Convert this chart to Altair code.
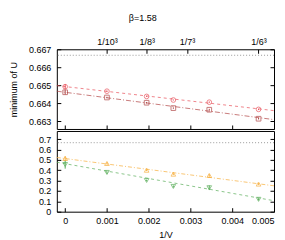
import altair as alt
import pandas as pd

# ---------------- data ----------------
inv_v = [0.0, 0.001, 0.00195, 0.00259, 0.00345, 0.00463]

top_circ = [0.66492, 0.66467, 0.66438, 0.66418, 0.66406, 0.66366]
top_circ_err = [0.00015, 0.00004, 0.00003, 0.00003, 0.00004, 0.00004]
top_sq = [0.66461, 0.66432, 0.66403, 0.66373, 0.66364, 0.66314]
top_sq_err = [0.00012, 0.00004, 0.00004, 0.00004, 0.00005, 0.00004]

bot_up = [0.514, 0.466, 0.401, 0.363, 0.350, 0.267]
bot_up_err = [0.022, 0.010, 0.008, 0.008, 0.012, 0.008]
bot_down = [0.456, 0.379, 0.302, 0.244, 0.231, 0.119]
bot_down_err = [0.040, 0.012, 0.008, 0.010, 0.022, 0.010]

# linear fits (value at left edge, value at right edge)
fit_x = [-0.0002, 0.005]
fit_circ = [0.66498, 0.66359]
fit_sq = [0.66467, 0.66309]
fit_up = [0.524, 0.250]
fit_down = [0.478, 0.106]

ref_level = [2.0 / 3.0]

series_names = ["circ", "sq", "up", "down"]
series_colors = ["#e8505a", "#b04444", "#f7ae3a", "#5aae5a"]
series_shapes = ["circle", "square", "triangle-up", "triangle-down"]
series_dash = [[3, 3], [5, 2, 1, 2], [4, 2, 1, 2], [3, 3]]

x_ticks = [0, 0.001, 0.002, 0.003, 0.004, 0.005]
top_ticks = [1 / 1000, 1 / 512, 1 / 343, 1 / 216]
top_labels = ["1/10³", "1/8³", "1/7³", "1/6³"]
y_top_ticks = [0.663, 0.664, 0.665, 0.666, 0.667]
y_bot_ticks = [0, 0.1, 0.2, 0.3, 0.4, 0.5, 0.6, 0.7]

x_domain = [-0.0002, 0.005]
y_top_domain = [0.66257, 0.667]
y_bot_domain = [0, 0.78]

FONT = "Liberation Sans"


def pts(name, ys, errs):
    return pd.DataFrame({
        "x": inv_v, "y": ys,
        "lo": [a - b for a, b in zip(ys, errs)],
        "hi": [a + b for a, b in zip(ys, errs)],
        "s": name,
    })


def fit(name, ys):
    return pd.DataFrame({"x": fit_x, "y": ys, "s": name})


top_pts = pd.concat([pts("circ", top_circ, top_circ_err), pts("sq", top_sq, top_sq_err)])
bot_pts = pd.concat([pts("up", bot_up, bot_up_err), pts("down", bot_down, bot_down_err)])
top_fit = pd.concat([fit("circ", fit_circ), fit("sq", fit_sq)])
bot_fit = pd.concat([fit("up", fit_up), fit("down", fit_down)])
ref_df = pd.DataFrame({"y": ref_level})

color_scale = alt.Scale(domain=series_names, range=series_colors)
shape_scale = alt.Scale(domain=series_names, range=series_shapes)
dash_scale = alt.Scale(domain=series_names, range=series_dash)

label_expr = " : ".join(
    f"abs(datum.value - {v}) < 0.00001 ? '{t}'" for v, t in zip(top_ticks, top_labels)
) + " : ''"


def tick_axis(orient, values):
    return alt.Axis(orient=orient, values=values, labels=False, domain=False, grid=False,
                    ticks=True, tickSize=4, offset=-4, tickColor="black", title=None)


def label_axis(orient, values, fmt=None, title=None, pad=5, expr=None, tpad=10, flush=False):
    kw = dict(orient=orient, values=values, ticks=False, domain=False, grid=False,
              labelPadding=pad, title=title, titlePadding=tpad)
    if fmt:
        kw["format"] = fmt
    if expr:
        kw["labelExpr"] = expr
    if flush:
        kw["labelFlush"] = True
    return alt.Axis(**kw)


def panel(pts_df, fit_df, ydom, yvals, yfmt, ytitle, x_axes, h):
    xs = alt.Scale(domain=x_domain, nice=False, zero=False)
    ys = alt.Scale(domain=ydom, nice=False, zero=False)
    ax_fit, ax_err, ax_pts = x_axes
    ref = alt.Chart(ref_df).mark_rule(color="#999999", strokeDash=[1, 2], strokeWidth=1).encode(
        y=alt.Y("y:Q", scale=ys, axis=label_axis("left", yvals, fmt=yfmt, title=ytitle, pad=6))
    )
    lines = alt.Chart(fit_df).mark_line(strokeWidth=1, opacity=0.7).encode(
        x=alt.X("x:Q", scale=xs, axis=ax_fit),
        y=alt.Y("y:Q", scale=ys, axis=tick_axis("left", yvals)),
        color=alt.Color("s:N", scale=color_scale, legend=None),
        strokeDash=alt.StrokeDash("s:N", scale=dash_scale, legend=None),
    )
    errs = alt.Chart(pts_df).mark_rule(strokeWidth=1).encode(
        x=alt.X("x:Q", scale=xs, axis=ax_err),
        y=alt.Y("lo:Q", scale=ys, axis=tick_axis("right", yvals)),
        y2="hi:Q",
        color=alt.Color("s:N", scale=color_scale, legend=None),
    )
    points = alt.Chart(pts_df).mark_point(size=22, strokeWidth=1, filled=False).encode(
        x=alt.X("x:Q", scale=xs, axis=ax_pts),
        y=alt.Y("y:Q", scale=ys, axis=None),
        color=alt.Color("s:N", scale=color_scale, legend=None),
        shape=alt.Shape("s:N", scale=shape_scale, legend=None),
    )
    return alt.layer(ref, lines, errs, points).resolve_axis(x="independent", y="independent").properties(
        width=218, height=h
    )


top = panel(
    top_pts, top_fit, y_top_domain, y_top_ticks, ".3f", "minimum of U",
    (tick_axis("bottom", x_ticks),
     label_axis("top", top_ticks, pad=3, expr=label_expr),
     tick_axis("top", top_ticks)),
    80,
)
bottom = panel(
    bot_pts, bot_fit, y_bot_domain, y_bot_ticks, "~g", None,
    (label_axis("bottom", x_ticks, fmt="~g", title="1/V", pad=5, tpad=5, flush=True),
     tick_axis("bottom", x_ticks),
     None),
    81,
)

chart = alt.vconcat(top, bottom, spacing=0).properties(
    title=alt.TitleParams("β=1.58", anchor="middle", fontSize=9, font=FONT,
                          fontWeight="normal", offset=14),
    padding={"left": 0, "top": 5, "right": 0, "bottom": 0},
).configure_view(
    stroke="black", strokeWidth=1
).configure_axis(
    labelFont=FONT, labelFontSize=9, labelColor="black",
    titleFont=FONT, titleFontSize=9, titleFontWeight="normal", titleColor="black",
).configure_concat(spacing=0)

chart.save("out.html", embed_options={"renderer": "svg", "actions": False})
